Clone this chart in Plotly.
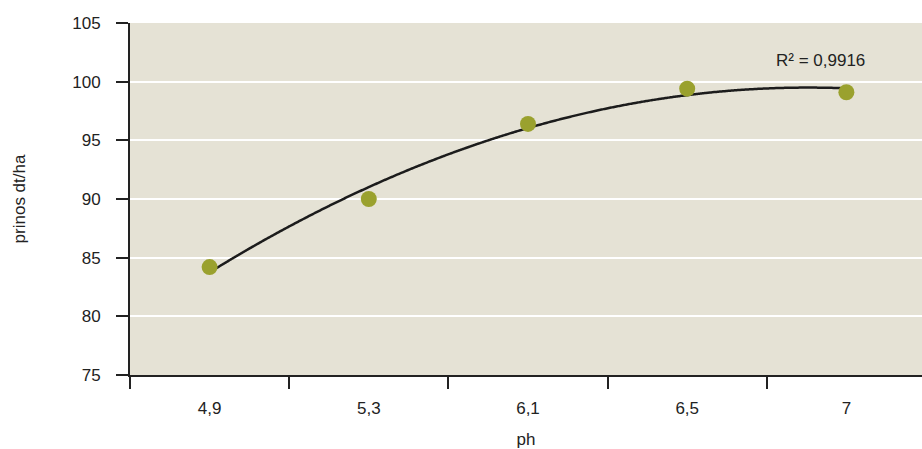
import numpy as np
import plotly.graph_objects as go

categories = ["4,9", "5,3", "6,1", "6,5", "7"]
yield_dt_ha = [84.2, 90.0, 96.4, 99.4, 99.1]
r2_label = "R² = 0,9916"

idx = np.arange(len(categories))
coef = np.polyfit(idx, yield_dt_ha, 2)
xs = np.linspace(0, len(categories) - 1, 300)
ys = np.polyval(coef, xs)

fig = go.Figure()
fig.add_trace(go.Scatter(x=xs, y=ys, mode="lines",
                         line=dict(color="#1c1c1c", width=2.5, shape="spline"),
                         hoverinfo="skip", showlegend=False))
fig.add_trace(go.Scatter(x=idx, y=yield_dt_ha, mode="markers",
                         marker=dict(color="#9AA12E", size=16),
                         showlegend=False))

fig.add_annotation(x=3.84, y=101.8, text=r2_label, showarrow=False,
                   font=dict(size=17, color="#222"), xanchor="center", yanchor="middle")

fig.update_layout(
    width=922, height=449,
    margin=dict(l=130, r=0, t=23, b=72),
    paper_bgcolor="white",
    plot_bgcolor="#E5E2D5",
    font=dict(family="Liberation Sans, Arial, sans-serif", size=17, color="#222"),
    xaxis=dict(
        range=[-0.5, 4.475],
        tickvals=list(idx), ticktext=categories,
        ticks="", showgrid=False, zeroline=False,
        showline=True, linecolor="#222", linewidth=2,
        ticklabelstandoff=17,
        minor=dict(tick0=-0.5, dtick=1, ticks="outside", ticklen=12,
                   tickwidth=2, tickcolor="#222", showgrid=False),
        title=dict(text="ph", standoff=19, font=dict(size=17)),
    ),
    yaxis=dict(
        range=[75, 105], tickvals=[75, 80, 85, 90, 95, 100, 105],
        ticks="outside", ticklen=12, tickwidth=2, tickcolor="#222",
        showline=True, linecolor="#222", linewidth=2,
        showgrid=True, gridcolor="white", gridwidth=1.5, zeroline=False,
        ticklabelstandoff=12,
        title=dict(text="prinos dt/ha", standoff=42, font=dict(size=17)),
    ),
)

fig.write_html("out.html", config={"displayModeBar": False},
               post_script="document.body.style.margin='0';document.body.style.overflow='hidden';")
